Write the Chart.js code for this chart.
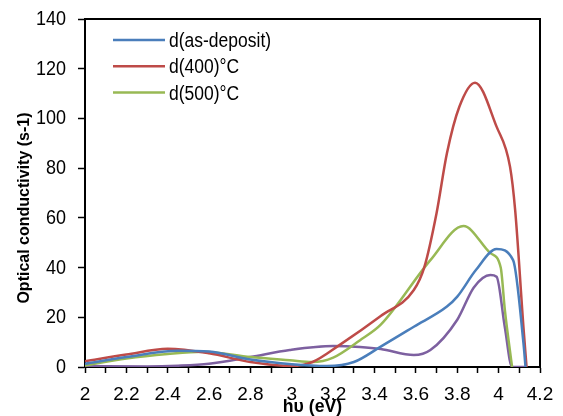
<!DOCTYPE html>
<html>
<head>
<meta charset="utf-8">
<script src="https://cdn.jsdelivr.net/npm/chart.js@4"></script>
<style>
  html, body { margin: 0; padding: 0; background: #fff; }
  #wrap { width: 563px; height: 416px; position: relative; }
</style>
</head>
<body>
<div id="wrap"><canvas id="c" width="563" height="416"></canvas></div>
<script>
// ---- data ----
const seriesLabels = ["d(as-deposit)", "d(400)°C", "d(500)°C", ""];

const asDepX = [2, 2.2, 2.45, 2.6, 2.8, 3.0, 3.17, 3.3, 3.43, 3.59, 3.75, 3.8, 3.89, 3.99, 4.07, 4.12, 4.13];
const asDepY = [1.3, 4, 6.5, 6.2, 3, 1.1, 0.4, 2, 8.2, 16.2, 24.3, 28.3, 39, 47.5, 43, 9.6, 0];

const d400X = [2, 2.2, 2.4, 2.6, 2.8, 3.0, 3.1, 3.23, 3.43, 3.59, 3.64, 3.70, 3.75, 3.81, 3.886, 3.99, 4.055, 4.08, 4.12, 4.135];
const d400Y = [2.3, 5, 7.3, 5.5, 2, 0.4, 2, 8.8, 20.5, 31, 40, 62, 86, 104.7, 114.4, 96.7, 80.6, 63, 16, 0];

const d500X = [2, 2.2, 2.4, 2.57, 2.8, 2.99, 3.1, 3.2, 3.33, 3.43, 3.67, 3.83, 3.96, 4.01, 4.03, 4.065];
const d500Y = [0.6, 3.4, 5.2, 6.1, 4, 2.7, 2, 3.8, 10.8, 17, 43, 56.7, 45.8, 40, 23, 0];

const d4X = [2, 2.3, 2.45, 2.6, 2.8, 2.99, 3.2, 3.33, 3.43, 3.59, 3.67, 3.80, 3.88, 3.96, 3.99, 4.03, 4.065, 4.13];
const d4Y = [0.4, 0.2, 0.5, 1.3, 4, 6.8, 8.4, 8, 7.2, 4.8, 6.8, 19, 32, 37, 36.3, 16, 0, 0];

const xTickValues = [2, 2.2, 2.4, 2.6, 2.8, 3, 3.2, 3.4, 3.6, 3.8, 4, 4.2];
const xTickLabels = ["2", "2.2", "2.4", "2.6", "2.8", "3", "3.2", "3.4", "3.6", "3.8", "4", "4.2"];
const yTickValues = [0, 20, 40, 60, 80, 100, 120, 140];
const yTickLabels = ["0", "20", "40", "60", "80", "100", "120", "140"];
const xTitle = "hυ (eV)";
const yTitle = "Optical conductivity (s-1)";

const colors = ["#4A7EBB", "#BE4B48", "#98B954", "#7D60A0"];

function pts(xs, ys) { return xs.map((x, i) => ({ x: x, y: ys[i] })); }

const FONT = "'Liberation Sans', Arial, sans-serif";

function txt(ctx, s, x, y, font, align, sx, sy) {
  ctx.save();
  ctx.translate(x, y);
  ctx.scale(sx, sy);
  ctx.font = font;
  ctx.textAlign = align;
  ctx.textBaseline = 'alphabetic';
  ctx.fillText(s, 0, 0);
  ctx.restore();
}

const boxAndText = {
  id: 'boxAndText',
  afterDraw(chart) {
    const ctx = chart.ctx;
    const a = chart.chartArea;
    const xs = chart.scales.x, ys = chart.scales.y;
    ctx.save();
    ctx.strokeStyle = '#000';
    ctx.lineWidth = 2;
    ctx.beginPath();
    ctx.moveTo(a.left, a.top);
    ctx.lineTo(a.right, a.top);
    ctx.lineTo(a.right, a.bottom);
    ctx.stroke();
    ctx.fillStyle = '#000';
    // tick labels
    xTickValues.forEach((v, i) => {
      txt(ctx, xTickLabels[i], xs.getPixelForValue(v), 399.5, "19px " + FONT, 'center', 1, 1);
    });
    yTickValues.forEach((v, i) => {
      txt(ctx, yTickLabels[i], 66, ys.getPixelForValue(v) + 6, "18px " + FONT, 'right', 1, 1.12);
    });
    // legend inside plot
    const items = chart.data.datasets.filter(d => d.label);
    items.forEach((d, i) => {
      const y = 40 + i * 26.3;
      ctx.strokeStyle = d.borderColor;
      ctx.lineWidth = 2.5;
      ctx.beginPath();
      ctx.moveTo(113, y);
      ctx.lineTo(165, y);
      ctx.stroke();
      txt(ctx, d.label, 169, y + 7, "17.5px " + FONT, 'left', 1, 1.18);
    });
    // axis titles
    txt(ctx, xTitle, (a.left + a.right) / 2, 411.5, "bold 19px " + FONT, 'center', 0.93, 1);
    ctx.translate(29, 208);
    ctx.rotate(-Math.PI / 2);
    txt(ctx, yTitle, 0, 0, "bold 16px " + FONT, 'center', 1, 1);
    ctx.restore();
  }
};

new Chart(document.getElementById('c'), {
  type: 'line',
  data: {
    datasets: [
      { label: seriesLabels[0], data: pts(asDepX, asDepY), borderColor: colors[0] },
      { label: seriesLabels[1], data: pts(d400X, d400Y), borderColor: colors[1] },
      { label: seriesLabels[2], data: pts(d500X, d500Y), borderColor: colors[2] },
      { label: seriesLabels[3], data: pts(d4X, d4Y), borderColor: colors[3] }
    ].map(d => Object.assign(d, {
      borderWidth: 2.5, pointRadius: 0, fill: false,
      cubicInterpolationMode: 'monotone'
    }))
  },
  options: {
    responsive: false,
    animation: false,
    events: [],
    layout: { padding: { top: 19, right: 23, left: 0, bottom: 0 } },
    plugins: { legend: { display: false }, tooltip: { enabled: false } },
    scales: {
      x: {
        type: 'linear', min: 2, max: 4.2,
        afterFit(s) { s.height = 49; },
        border: { color: '#000', width: 2 },
        grid: { drawOnChartArea: false, drawTicks: true, tickLength: 6, color: '#000', tickWidth: 1.5 },
        ticks: { stepSize: 0.1, autoSkip: false, maxRotation: 0, display: false }
      },
      y: {
        min: 0, max: 140,
        afterFit(s) { s.width = 85; },
        border: { color: '#000', width: 2 },
        grid: { drawOnChartArea: false, drawTicks: true, tickLength: 7, color: '#000', tickWidth: 1.5 },
        ticks: { stepSize: 20, display: false }
      }
    }
  },
  plugins: [boxAndText]
});
</script>
</body>
</html>
